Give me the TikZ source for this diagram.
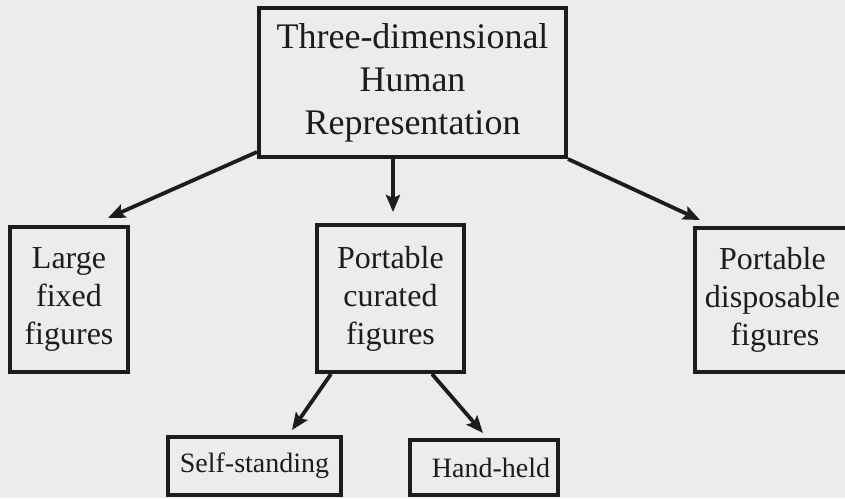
\documentclass[tikz,border=0pt]{standalone}
\usepackage{fontspec}
\setmainfont{Liberation Serif}
\usetikzlibrary{arrows.meta}
\definecolor{paper}{RGB}{236,236,236}
\definecolor{ink}{RGB}{28,28,28}
\begin{document}
\begin{tikzpicture}[x=1pt,y=-1pt,
  box/.style={draw=ink, line width=4pt, align=center, inner sep=0pt, text=ink},
  bigtext/.style={font=\fontsize{36}{43}\selectfont},
  midtext/.style={font=\fontsize{32}{38}\selectfont},
  smalltext/.style={font=\fontsize{28}{33}\selectfont},
  arr/.style={draw=ink, line width=3.8pt, -{Stealth[length=17pt,width=14pt,inset=3pt]}}]
\useasboundingbox (0,0) rectangle (845,498);
\clip (0,0) rectangle (845,498);
\fill[paper] (0,0) rectangle (845,498);

\node[box, bigtext, minimum width=307pt, minimum height=149pt] (top) at (412.5,82.5)
  {Three-dimensional\\Human\\Representation};
\node[box, midtext, minimum width=118pt, minimum height=145pt] (left) at (69,299.5)
  {Large\\fixed\\figures};
\node[box, midtext, minimum width=147pt, minimum height=147pt] (mid) at (390.5,298.5)
  {Portable\\curated\\figures};
\node[box, midtext, minimum width=155pt, minimum height=144pt] (right) at (772.5,300)
  {Portable\\disposable\\figures\hspace*{-5pt}};
\node[box, smalltext, minimum width=173pt, minimum height=58pt] (self) at (254.5,466)
  {Self-standing};
\node[box, smalltext, minimum width=148pt, minimum height=55pt] (hand) at (484,467.5)
  {\hspace*{14pt}Hand-held};

\draw[arr] ([yshift=7pt]top.south west) -- ([xshift=39pt,yshift=7pt]left.north);
\draw[arr] ([xshift=-19.5pt]top.south) -- ([xshift=2.5pt,yshift=11pt]mid.north);
\draw[arr] (top.south east) -- ([xshift=7pt,yshift=6pt]right.north west);
\draw[arr] ([xshift=16pt]mid.south west) -- ([xshift=37.5pt,yshift=5pt]self.north);
\draw[arr] ([xshift=41.5pt]mid.south) -- ([xshift=-1pt,yshift=5pt]hand.north);
\end{tikzpicture}
\end{document}
